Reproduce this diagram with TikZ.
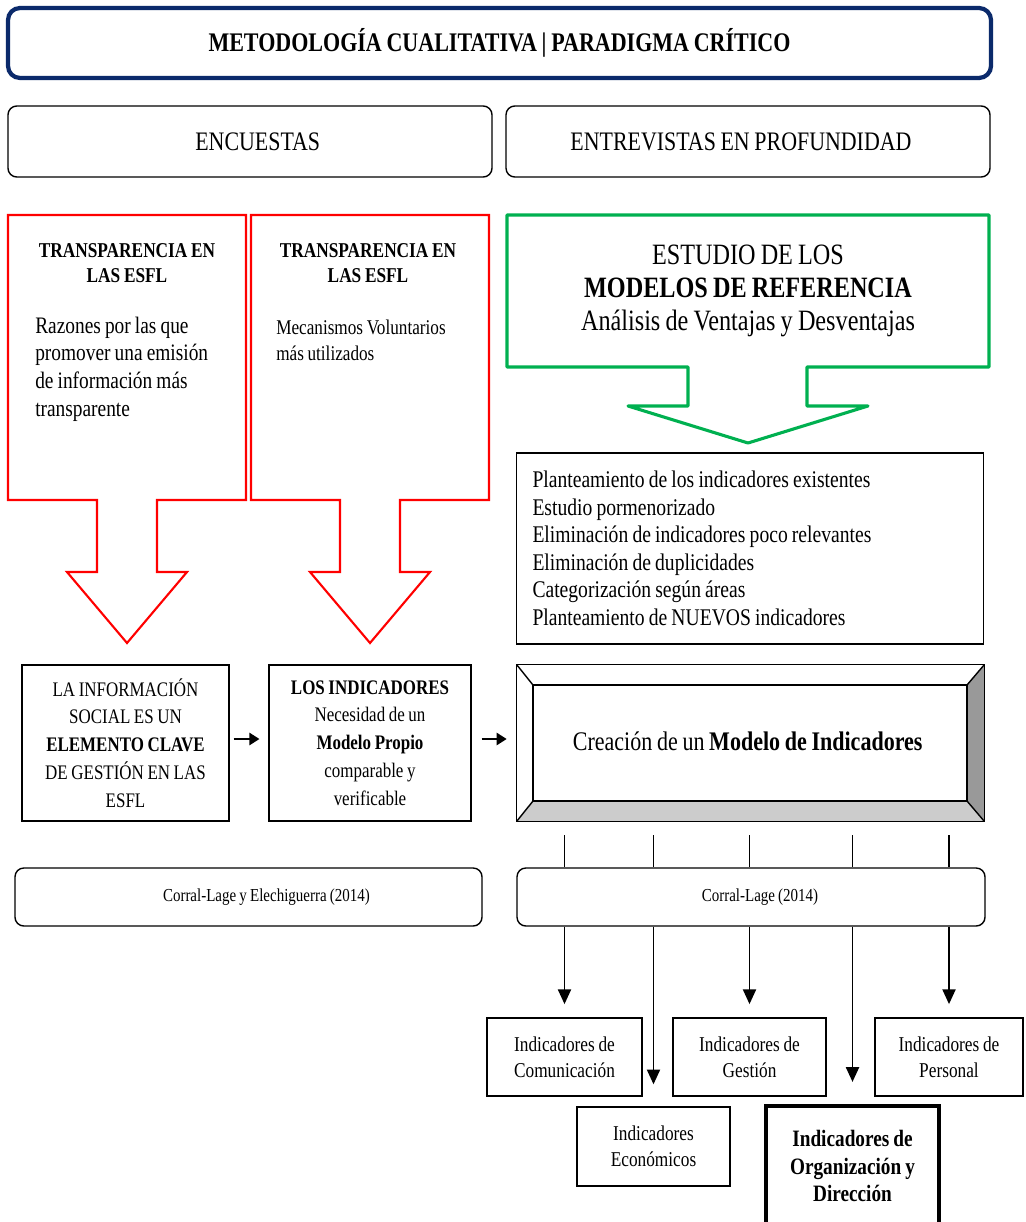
\documentclass[tikz,border=0pt]{standalone}
\usepackage{fontspec}
\setmainfont{Liberation Serif}[FakeStretch=0.82,WordSpace=0.85]
\usetikzlibrary{arrows.meta}
\definecolor{navy}{HTML}{0B2A6B}
\definecolor{okgreen}{HTML}{00B050}

\begin{document}
\begin{tikzpicture}[x=0.025cm,y=-0.025cm,
    box/.style={draw,line width=1pt,inner sep=0,align=center},
    rbox/.style={box,rounded corners=0.22cm},
    callred/.style={draw=red,line width=1.5pt},
    callgreen/.style={draw=okgreen,line width=2.2pt,line join=round},
    wire/.style={line width=1.1pt},
    downarrow/.style={wire,-{Triangle[length=0.37cm,width=0.33cm]}},
    sidearrow/.style={line width=1.6pt,-{Triangle[length=0.25cm,width=0.3cm]}}
    ]
    \def\px{0.025cm} % one pixel of the page
    \useasboundingbox (0,0) rectangle (1025,1222);

    % header row
    \node[rbox,draw=navy,line width=3pt,rounded corners=0.3cm,minimum width=983*\px,minimum height=70*\px,
        font=\bfseries\fontsize{19.1}{22}\selectfont] (title) at (499.5,43) {METODOLOGÍA CUALITATIVA | PARADIGMA CRÍTICO};
    \node[rbox,minimum width=484*\px,minimum height=71*\px,font=\fontsize{19}{22}\selectfont] (enc) at (250,141.5)
        {\hspace*{11pt}ENCUESTAS};
    \node[rbox,minimum width=484*\px,minimum height=71*\px,font=\fontsize{19}{22}\selectfont] (ent) at (748,141.5)
        {ENTREVISTAS EN PROFUNDIDAD\hspace*{10pt}};

    % red callouts
    \foreach \dx in {0,243} {
        \begin{scope}[shift={(\dx,0)}]
            \draw[callred] (8,215) -- (246,215) -- (246,500) -- (157,500) -- (157,572) -- (187,572)
                -- (127,643) -- (67,572) -- (97,572) -- (97,500) -- (8,500) -- cycle;
        \end{scope}
    }
    \node[align=center,font=\bfseries\fontsize{15}{17.7}\selectfont] (r1head) at (127,263) {TRANSPARENCIA EN\\LAS ESFL};
    \node[anchor=west,align=left,font=\fontsize{16.8}{19.6}\selectfont,inner sep=0] (r1text) at (35,369)
        {Razones por las que\\promover una emisión\\de información más\\transparente};
    \node[align=center,font=\bfseries\fontsize{15}{17.7}\selectfont] (r2head) at (368,263) {TRANSPARENCIA EN\\LAS ESFL};
    \node[anchor=west,align=left,font=\fontsize{14.9}{18.4}\selectfont,inner sep=0] (r2text) at (276,340)
        {Mecanismos Voluntarios\\más utilizados};

    % green callout
    \draw[callgreen] (507,215) -- (989,215) -- (989,367) -- (807,367) -- (807,406) -- (868,406)
        -- (748,443) -- (628,406) -- (688,406) -- (688,367) -- (507,367) -- cycle;
    \node[align=center,font=\fontsize{21}{23.7}\selectfont] (study) at (748,291)
        {ESTUDIO DE LOS\\\textbf{MODELOS DE REFERENCIA}\\Análisis de Ventajas y Desventajas};

    \node[box,align=flush left,text width=435*\px,inner xsep=16*\px,minimum height=191*\px,
        font=\fontsize{17}{19.6}\selectfont] (steps) at (750,548.5)
        {Planteamiento de los indicadores existentes\\Estudio pormenorizado\\Eliminación de indicadores poco relevantes\\
         Eliminación de duplicidades\\Categorización según áreas\\Planteamiento de NUEVOS indicadores};

    % middle row
    \node[box,minimum width=207*\px,minimum height=156*\px,font=\fontsize{14.7}{19.8}\selectfont] (info) at (125.5,743)
        {LA INFORMACIÓN\\SOCIAL ES UN\\\textbf{ELEMENTO CLAVE}\\DE GESTIÓN EN LAS\\ESFL};
    \node[box,minimum width=202*\px,minimum height=156*\px,font=\fontsize{14.7}{19.8}\selectfont] (need) at (370,743)
        {\textbf{LOS INDICADORES}\\Necesidad de un\\\textbf{Modelo Propio}\\comparable y\\verificable};
    \node[minimum width=467*\px,minimum height=156*\px,inner sep=0,font=\fontsize{19.1}{22}\selectfont] (model) at (750.5,743)
        {\raisebox{2pt}{Creación de un \textbf{Modelo de Indicadores}}\hspace*{4pt}};
    \fill[gray!80] (model.north east) -- (967,685) -- (967,801) -- (model.south east) -- cycle;
    \fill[gray!40] (model.south west) -- (533,801) -- (967,801) -- (model.south east) -- cycle;
    \draw[line width=1pt] (model.north west) rectangle (model.south east);
    \draw[line width=1.2pt] (533,685) rectangle (967,801);
    \draw[line width=1pt] (model.north west) -- (533,685) (model.north east) -- (967,685)
        (model.south west) -- (533,801) (model.south east) -- (967,801);

    \draw[sidearrow,shorten <=0.1cm,shorten >=0.22cm] ([yshift=0.1cm]info.east) -- ([yshift=0.1cm]need.west);
    \draw[sidearrow,shorten <=0.25cm,shorten >=0.25cm] ([yshift=0.1cm]need.east) -- ([yshift=0.1cm]model.west);

    % sources
    \node[rbox,minimum width=467*\px,minimum height=58*\px,font=\fontsize{13}{15}\selectfont] (cite1) at (248.5,897)
        {\hspace*{25.5pt}Corral-Lage y Elechiguerra (2014)};
    \node[rbox,minimum width=468*\px,minimum height=58*\px,font=\fontsize{13}{15}\selectfont] (cite2) at (751,897)
        {\hspace*{12.8pt}Corral-Lage (2014)};

    % indicator groups
    \tikzset{group/.style={box,minimum width=153*\px,minimum height=78*\px,font=\fontsize{15}{18.4}\selectfont}}
    \node[group,minimum width=155*\px] (com) at (564.5,1057) {Indicadores de\\Comunicación};
    \node[group] (ges) at (749.5,1057) {Indicadores de\\Gestión};
    \node[group,minimum width=148*\px] (per) at (949,1057) {Indicadores de\\Personal};
    \node[group,minimum height=79*\px] (eco) at (653.5,1146.5) {Indicadores\\Económicos};
    \node[group,line width=3pt,minimum width=173*\px,minimum height=120*\px,
        font=\bfseries\fontsize{16.7}{19.5}\selectfont] (org) at (852.5,1166) {Indicadores de\\Organización y\\Dirección};

    \foreach \t/\s in {com/0.33,eco/0.55,ges/0.33,org/0.55,per/0.33} {
        \draw[wire,shorten <=0.35cm] (model.south -| \t.north) -- (cite2.north -| \t.north);
        \draw[downarrow,shorten >=\s cm] (cite2.south -| \t.north) -- (\t.north);
    }
\end{tikzpicture}
\end{document}
